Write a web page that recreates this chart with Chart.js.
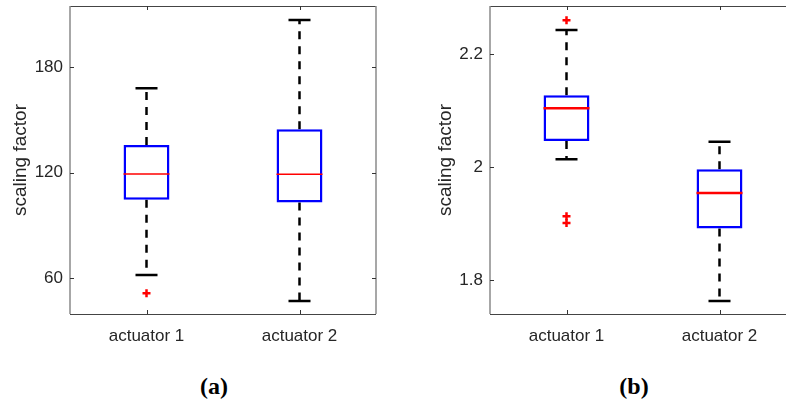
<!DOCTYPE html>
<html>
<head>
<meta charset="utf-8">
<script src="https://cdn.jsdelivr.net/npm/chart.js@4"></script>
<style>
  html, body { margin: 0; padding: 0; background: #fff; }
  body { width: 786px; height: 404px; overflow: hidden; position: relative; }
  .panel { position: absolute; top: 0; }
  .cap { position: absolute; top: 373px; height: 30px; line-height: 30px; width: 80px; text-align: center;
         font: bold 24px "Liberation Serif", "Times New Roman", serif; color: #000; }
</style>
</head>
<body>
<div class="panel" style="left:0px"><canvas id="chartA" width="400" height="360"></canvas></div>
<div class="panel" style="left:420px"><canvas id="chartB" width="400" height="360"></canvas></div>
<div class="cap" style="left:174px">(a)</div>
<div class="cap" style="left:594px">(b)</div>
<script>
const cats = ["actuator 1", "actuator 2"];

// panel (a)
const aMin = [62, 47.2];
const aQ1 = [104.7, 103.1];
const aMed = [119.3, 119.1];
const aQ3 = [135.7, 144.6];
const aMax = [167.9, 206.7];
const aOut = [[51.6], []];
const aTicks = [60, 120, 180];

// panel (b)
const bMin = [2.014, 1.763];
const bQ1 = [2.046, 1.8915];
const bMed = [2.104, 1.954];
const bQ3 = [2.127, 1.996];
const bMax = [2.2425, 2.045];
const bOut = [[2.260, 1.913, 1.901], []];
const bTicks = [1.8, 2, 2.2];

const textColor = "#262626";

// frame + inward tick marks like matlab axes
const framePlugin = {
    id: "frame",
    afterDraw(chart) {
        const ctx = chart.ctx;
        const a = chart.chartArea;
        const x = chart.scales.x, y = chart.scales.y;
        ctx.save();
        ctx.lineWidth = 1;
        ctx.strokeStyle = "#444";
        ctx.beginPath();
        ctx.moveTo(a.left, a.top + 0.5); ctx.lineTo(a.right, a.top + 0.5);
        ctx.moveTo(a.left, a.bottom + 0.5); ctx.lineTo(a.right, a.bottom + 0.5);
        ctx.stroke();
        ctx.strokeStyle = "#8a8a8a";
        ctx.lineWidth = 1.5;
        ctx.beginPath();
        ctx.moveTo(a.left, a.top); ctx.lineTo(a.left, a.bottom);
        ctx.moveTo(a.right, a.top); ctx.lineTo(a.right, a.bottom);
        ctx.stroke();
        ctx.strokeStyle = "#333";
        ctx.lineWidth = 1;
        ctx.beginPath();
        y.ticks.forEach(t => {
            const py = Math.round(y.getPixelForValue(t.value)) + 0.5;
            ctx.moveTo(a.left, py); ctx.lineTo(a.left + 4, py);
            ctx.moveTo(a.right, py); ctx.lineTo(a.right - 4, py);
        });
        cats.forEach((c, i) => {
            const px = Math.round(x.getPixelForValue(i)) + 0.5;
            ctx.moveTo(px, a.bottom); ctx.lineTo(px, a.bottom - 4);
            ctx.moveTo(px, a.top); ctx.lineTo(px, a.top + 4);
        });
        ctx.stroke();
        ctx.restore();
    }
};

function boxChart(canvasId, mins, q1, med, q3, maxs, outs, ticks, yMin, yMax, medWidth, titlePad) {
    const whisker = [];
    const caps = [];
    const outliers = [];
    cats.forEach((c, i) => {
        whisker.push({x: c, y: q3[i]}, {x: c, y: maxs[i]}, {x: c, y: null});
        whisker.push({x: c, y: q1[i]}, {x: c, y: mins[i]}, {x: c, y: null});
        caps.push({x: c, y: mins[i]}, {x: c, y: maxs[i]});
        outs[i].forEach(v => outliers.push({x: c, y: v}));
    });

    return new Chart(document.getElementById(canvasId), {
        type: "bar",
        data: {
            labels: cats,
            datasets: [
                {
                    type: "line",
                    order: 0,
                    data: cats.map((c, i) => ({x: c, y: med[i]})),
                    showLine: false,
                    pointStyle: "line",
                    pointRadius: 23,
                    pointBorderColor: "#ff0000",
                    pointBorderWidth: medWidth
                },
                {
                    type: "line",
                    order: 1,
                    data: outliers,
                    showLine: false,
                    pointStyle: "cross",
                    pointRadius: 4,
                    pointBorderColor: "#ff0000",
                    pointBorderWidth: 2.5
                },
                {
                    type: "line",
                    order: 2,
                    data: caps,
                    showLine: false,
                    pointStyle: "line",
                    pointRadius: 11,
                    pointBorderColor: "#000",
                    pointBorderWidth: 2.5
                },
                {
                    type: "bar",
                    order: 3,
                    data: cats.map((c, i) => [q1[i], q3[i]]),
                    backgroundColor: "#ffffff",
                    borderColor: "#0000ff",
                    borderWidth: 2.5,
                    borderSkipped: false,
                    barPercentage: 0.3,
                    categoryPercentage: 1
                },
                {
                    type: "line",
                    order: 4,
                    data: whisker,
                    spanGaps: false,
                    pointRadius: 0,
                    borderColor: "#000",
                    borderWidth: 2.5,
                    borderDash: [8, 7],
                    fill: false
                }
            ]
        },
        options: {
            responsive: false,
            animation: false,
            events: [],
            layout: {
                autoPadding: false,
                padding: {top: 6, right: 24, left: 0, bottom: 0}
            },
            plugins: {
                legend: {display: false},
                tooltip: {enabled: false}
            },
            scales: {
                x: {
                    type: "category",
                    offset: true,
                    grid: {display: false, drawTicks: false},
                    border: {display: false},
                    ticks: {
                        color: textColor,
                        padding: 12,
                        font: {family: "'Liberation Sans', Arial, sans-serif", size: 17}
                    },
                    afterFit: s => { s.height = 46; s.paddingLeft = 0; s.paddingRight = 0; }
                },
                y: {
                    min: yMin,
                    max: yMax,
                    grid: {display: false, drawTicks: false},
                    border: {display: false},
                    afterBuildTicks: s => { s.ticks = ticks.map(v => ({value: v})); },
                    ticks: {
                        color: textColor,
                        padding: 7,
                        font: {family: "'Liberation Sans', Arial, sans-serif", size: 17},
                        callback: v => String(v)
                    },
                    title: {
                        display: true,
                        text: "scaling factor",
                        color: textColor,
                        padding: {top: titlePad, bottom: 0},
                        font: {family: "'Liberation Sans', Arial, sans-serif", size: 19}
                    },
                    afterFit: s => { s.width = 70; s.paddingTop = 0; s.paddingBottom = 0; }
                }
            }
        },
        plugins: [framePlugin]
    });
}

const chartA = boxChart("chartA", aMin, aQ1, aMed, aQ3, aMax, aOut, aTicks, 39.8, 214.6, 1.5, 9);
const chartB = boxChart("chartB", bMin, bQ1, bMed, bQ3, bMax, bOut, bTicks, 1.74, 2.285, 2.5, 14);
</script>
</body>
</html>
